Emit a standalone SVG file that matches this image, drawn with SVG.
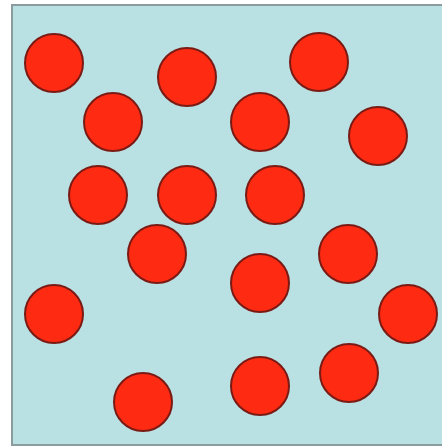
<svg xmlns="http://www.w3.org/2000/svg" width="442" height="448" viewBox="0 0 442 448">
<style>
.dot{fill:#fe2a12;stroke:#7a1a14;stroke-width:2}
</style>
<rect width="442" height="448" fill="#ffffff"/>
<rect x="12" y="5" width="440" height="440" fill="#b9e0e2" stroke="#8a9c9e" stroke-width="2"/>
<g id="dots">
<circle class="dot" cx="54" cy="63" r="29"/>
<circle class="dot" cx="187" cy="77" r="29"/>
<circle class="dot" cx="319" cy="62" r="29"/>
<circle class="dot" cx="113" cy="122" r="29"/>
<circle class="dot" cx="260" cy="122" r="29"/>
<circle class="dot" cx="378" cy="136" r="29"/>
<circle class="dot" cx="98" cy="195" r="29"/>
<circle class="dot" cx="187" cy="195" r="29"/>
<circle class="dot" cx="275" cy="195" r="29"/>
<circle class="dot" cx="157" cy="254" r="29"/>
<circle class="dot" cx="348" cy="254" r="29"/>
<circle class="dot" cx="260" cy="283" r="29"/>
<circle class="dot" cx="54" cy="314" r="29"/>
<circle class="dot" cx="408" cy="314" r="29"/>
<circle class="dot" cx="143" cy="402" r="29"/>
<circle class="dot" cx="260" cy="386" r="29"/>
<circle class="dot" cx="349" cy="373" r="29"/>
</g>
</svg>
